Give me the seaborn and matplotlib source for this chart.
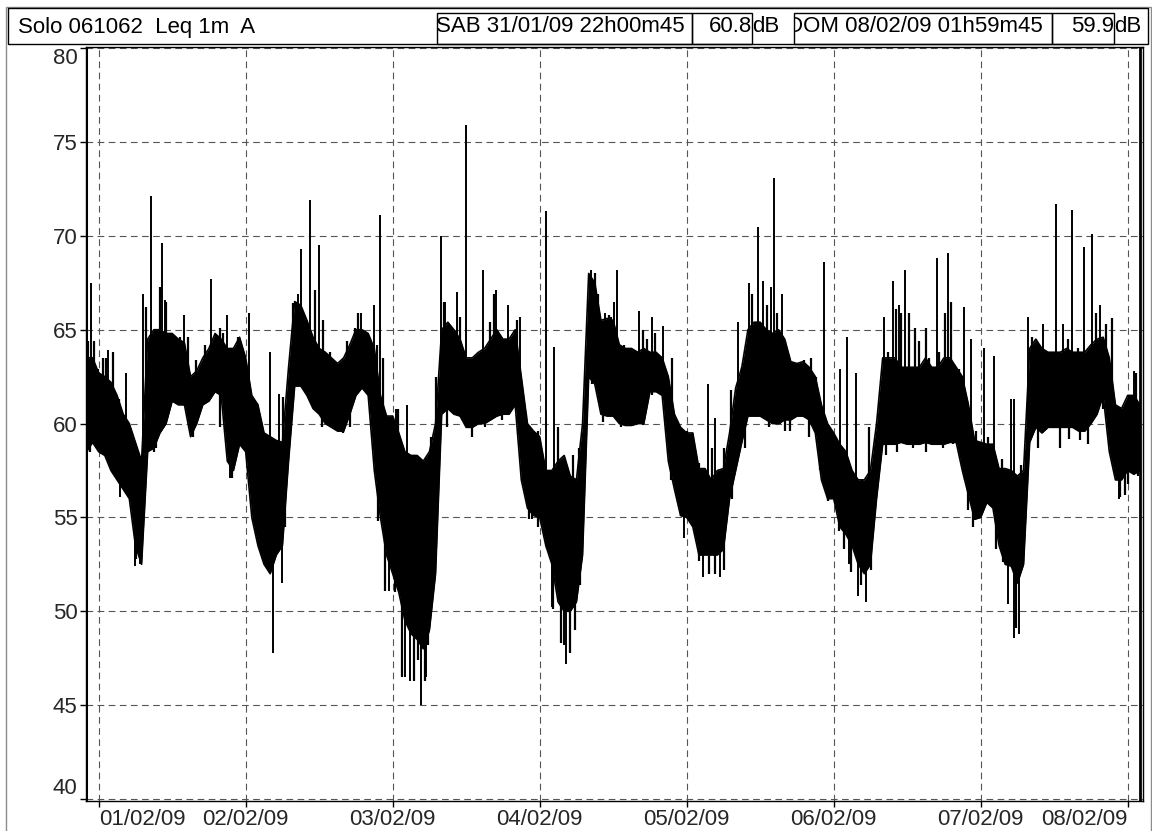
"""
Leq 1m (A) - sonometro Solo 061062
31/01/09 22h00 -> 08/02/09 02h00
"""
import numpy as np
import pandas as pd
import seaborn as sns
import matplotlib.pyplot as plt
from matplotlib.patches import Rectangle
from matplotlib.transforms import Bbox, TransformedBbox

# horas desde 01/02/09 00h00
hours = np.arange(-2, 171)

# envolvente superior / inferior da banda (dB), uma leitura por hora
band_hi = [63.5, 63.5,
           62.7, 62.5, 62.2, 61.5, 60.5, 60.0, 59.0, 58.0, 64.5, 65.0, 65.0, 64.8, 64.8, 64.5, 64.3, 62.5, 62.8, 63.5, 64.0, 64.8, 64.5, 64.0, 64.0, 64.6,
           63.5, 61.5, 61.0, 59.5, 59.3, 59.1, 59.0, 63.0, 66.5, 66.3, 65.5, 64.6, 64.0, 63.8, 63.5, 63.2, 63.5, 64.2, 65.0, 65.0, 64.8, 64.0, 61.5, 60.4,
           60.4, 59.5, 58.5, 58.3, 58.3, 58.0, 58.5, 60.0, 65.0, 65.4, 65.0, 64.5, 63.5, 63.5, 63.8, 64.0, 64.5, 65.0, 64.5, 64.5, 65.0, 62.5, 60.0, 59.6,
           59.3, 57.5, 57.5, 58.0, 58.3, 57.2, 57.0, 60.0, 68.0, 67.5, 65.5, 65.6, 65.5, 64.2, 64.0, 64.0, 63.8, 64.0, 63.8, 63.8, 63.5, 62.5, 60.5, 59.8,
           59.5, 59.5, 57.6, 57.6, 57.0, 57.5, 57.6, 59.5, 61.9, 63.0, 65.0, 65.4, 65.4, 65.0, 64.8, 65.0, 64.5, 63.3, 63.2, 63.3, 63.0, 62.5, 61.0, 60.0,
           59.5, 58.9, 58.5, 57.5, 57.0, 57.0, 57.5, 60.0, 63.5, 63.5, 63.5, 63.0, 63.0, 63.0, 63.0, 63.5, 63.0, 63.0, 63.5, 63.5, 63.0, 62.5, 61.0, 59.1,
           59.0, 58.9, 58.9, 57.6, 57.6, 57.5, 57.2, 57.5, 64.0, 64.5, 64.0, 63.8, 63.8, 63.8, 64.0, 63.8, 63.8, 63.8, 64.2, 64.5, 64.6, 63.5, 61.0, 60.8,
           61.5, 61.5, 61.0]
band_lo = [58.5, 59.0,
           58.5, 58.3, 57.5, 57.0, 56.5, 56.0, 53.5, 52.5, 58.5, 58.7, 59.5, 60.0, 61.2, 61.0, 61.0, 59.3, 60.0, 61.0, 61.2, 61.7, 61.5, 58.0, 57.5, 58.9,
           58.5, 55.0, 53.5, 52.5, 52.0, 53.0, 53.5, 58.0, 62.0, 62.0, 61.5, 60.8, 60.5, 60.0, 59.8, 59.6, 59.6, 60.5, 61.5, 61.9, 61.5, 57.5, 55.0, 53.0,
           52.0, 51.0, 49.5, 48.8, 48.5, 48.0, 49.0, 52.0, 60.5, 60.8, 60.5, 60.4, 59.8, 59.8, 60.0, 60.0, 60.2, 60.4, 60.5, 60.5, 61.0, 57.0, 55.5, 55.1,
           55.0, 53.5, 52.5, 50.5, 50.0, 50.0, 50.5, 53.0, 62.5, 62.1, 60.5, 60.4, 60.4, 60.0, 59.9, 59.9, 60.0, 60.0, 61.7, 61.7, 61.5, 58.0, 56.5, 55.1,
           55.0, 54.5, 53.0, 53.0, 53.0, 53.0, 53.3, 56.0, 57.5, 59.0, 60.4, 60.4, 60.4, 60.2, 60.0, 60.0, 60.2, 60.2, 60.4, 60.4, 60.2, 59.5, 57.0, 56.0,
           56.0, 54.5, 54.1, 53.5, 52.5, 52.0, 52.5, 56.0, 58.9, 58.9, 58.9, 59.0, 58.9, 58.9, 58.9, 59.0, 58.9, 58.9, 58.9, 59.0, 59.0, 57.5, 56.2, 54.9,
           55.0, 55.8, 55.5, 53.5, 52.5, 52.4, 51.5, 52.5, 59.0, 59.8, 59.5, 59.8, 59.8, 59.8, 59.8, 59.8, 59.6, 59.6, 60.0, 60.5, 61.5, 58.5, 57.0, 57.0,
           57.5, 57.3, 57.5]

# picos isolados (hora, dB)
peak_t = [-1.3, 1.6, 4.5, 7.3, 8.5, 10.3, 10.8, 14.0, 18.4, 21.0, 24.5,
          27.9, 29.4, 32.5, 33.0, 34.5, 35.9, 42.9, 45.0, 46.0, 48.6, 50.3,
          55.9, 56.6, 58.5, 60.0, 62.7, 64.8, 66.9, 68.8, 73.0, 74.3, 80.3, 82.7,
          84.2, 84.7, 88.2, 90.3, 92.1, 99.5, 100.6, 104.3, 106.1, 107.6, 108.4, 109.7, 110.2, 111.6,
          118.5, 121.0, 122.1, 123.7, 128.2, 129.7, 130.7, 131.6, 136.9, 138.7, 141.2,
          142.4, 144.5, 146.1, 149.0, 149.5, 151.8, 154.1, 156.3, 157.4, 158.9, 160.8, 162.2, 163.4, 169.0]
peak_v = [67.5, 63.9, 62.7, 66.9, 72.1, 69.6, 66.6, 65.8, 67.7, 65.8, 65.9,
          63.8, 61.6, 66.9, 69.3, 71.9, 69.5, 65.9, 66.3, 71.1, 60.8, 61.0,
          70.0, 66.5, 67.0, 75.9, 68.2, 67.1, 66.3, 65.7, 71.3, 64.1, 68.2, 65.9,
          66.5, 68.2, 66.0, 65.7, 65.2, 62.1, 60.3, 65.4, 67.5, 70.5, 67.6, 67.3, 73.1, 66.9,
          68.6, 62.9, 64.6, 62.7, 65.7, 67.6, 66.3, 68.2, 68.8, 69.1, 66.2,
          64.5, 64.0, 63.6, 61.3, 61.3, 65.7, 65.3, 71.7, 65.3, 71.4, 69.4, 70.1, 66.3, 62.8]

# pequenos picos (textura da banda)
minor_peak_t = [-1.75, -0.82, -0.11, 0.70, 1.25, 2.33, 3.26, 7.78, 9.24, 9.95, 11.04, 12.13, 13.22, 14.58, 15.83, 17.41, 19.75, 20.29, 22.74, 23.83,
                25.8, 30.1, 31.7, 33.7, 35.3, 36.7, 37.8, 40.5, 41.8, 42.4, 44.0, 45.4, 46.5, 48.9, 51.9, 53.5, 54.3,
                55.0, 56.3, 57.4, 59.0, 60.9, 61.8, 63.9, 64.5, 65.3, 67.8, 68.3, 69.7, 71.8, 75.0, 77.5, 78.4, 81.0, 81.6, 83.3,
                83.6, 85.8, 86.6, 88.8, 89.6, 90.9, 91.5, 93.6, 94.7, 96.1, 98.0, 100.2, 102.1, 103.2, 105.1, 106.7, 109.1, 110.8, 112.1,
                113.6, 115.2, 116.3, 117.1, 119.8, 124.7, 125.8, 128.8, 130.2, 131.0, 132.3, 133.2, 134.0, 135.0, 135.6, 137.2, 138.2, 139.2, 140.5,
                141.8, 143.3, 145.2, 147.4, 148.2, 150.6, 152.3, 153.4, 155.0, 155.5, 158.2, 159.9, 161.5, 162.9, 164.5, 165.5, 169.4]
minor_peak_v = [64.4, 64.4, 62.9, 63.5, 63.5, 63.8, 61.3, 66.2, 64.6, 67.3, 66.5, 64.7, 64.6, 64.6, 63.4, 64.2, 65.1, 64.8, 64.6, 62.7,
                61.1, 61.4, 66.4, 65.5, 67.1, 65.5, 63.8, 64.4, 65.1, 65.9, 63.8, 64.2, 63.5, 60.8, 57.9, 58.1, 59.3,
                62.5, 66.5, 64.6, 65.7, 63.0, 62.9, 65.4, 66.9, 64.6, 64.4, 65.5, 60.5, 59.6, 59.8, 58.3, 58.7, 68.0, 66.9, 65.8,
                65.7, 64.2, 63.8, 65.0, 64.5, 64.8, 63.5, 63.5, 59.8, 59.6, 57.9, 58.7, 58.7, 61.8, 63.0, 66.9, 66.3, 65.9, 64.4,
                63.1, 63.4, 63.5, 62.5, 59.6, 57.0, 59.8, 63.8, 66.1, 65.9, 65.9, 65.1, 64.4, 65.1, 63.5, 63.8, 65.9, 66.5, 62.9,
                61.2, 59.6, 59.3, 58.1, 57.5, 57.8, 64.6, 63.5, 62.9, 63.8, 64.5, 64.0, 63.5, 65.9, 65.3, 65.6, 62.7]

# quedas isoladas (hora, dB)
dip_t = [3.4, 5.9, 6.7, 21.4, 25.7, 28.4, 30.0, 47.4, 50.0, 50.8, 52.7, 53.5, 54.4,
         70.7, 74.0, 75.9, 76.3, 95.5, 98.7, 101.5, 122.5, 123.9, 125.3, 148.4, 149.5, 150.3, 166.6]
dip_v = [56.1, 52.4, 52.5, 57.1, 54.4, 47.8, 51.5, 51.1, 46.5, 46.3, 45.0, 46.5, 52.0,
         54.9, 50.2, 48.2, 47.2, 53.9, 51.8, 51.8, 52.5, 50.8, 50.5, 50.4, 48.6, 48.8, 56.0]

# pequenas quedas (textura da banda)
minor_dip_t = [-1.98, -1.4, -0.3, 0.32, 1.52, 2.88, 4.2, 5.33, 6.14, 9.1, 9.4, 10.5, 12.9, 15.4, 17.0, 19.75, 21.8, 23.6, 24.9, 25.4,
               26.3, 27.2, 30.4, 32.6, 33.4, 35.3, 36.4, 38.0, 39.9, 41.0, 42.7, 45.6, 46.8, 48.4, 49.5, 51.4, 52.2, 53.3, 53.8,
               56.9, 58.2, 60.9, 63.1, 65.3, 65.8, 70.2, 71.7, 73.2, 74.1, 75.5, 77.0, 77.8, 78.6, 80.5, 82.4,
               85.2, 87.4, 88.8, 90.4, 93.4, 95.0, 96.4, 98.0, 99.6, 100.7, 102.1, 103.4, 105.5, 107.2, 109.4, 111.3, 112.1,
               112.8, 114.7, 116.0, 117.7, 119.0, 120.9, 121.7, 122.8, 124.5, 126.1, 128.5, 130.4, 132.9, 135.1, 137.8, 139.4, 141.5,
               141.9, 142.7, 143.6, 145.5, 146.5, 147.6, 149.8, 150.9, 153.4, 156.9, 158.5, 160.2, 161.5, 164.0, 166.7, 167.5, 168.0, 169.7]
minor_dip_v = [58.5, 58.5, 59.3, 58.4, 58.1, 57.2, 57.8, 56.0, 52.8, 58.5, 58.7, 60.4, 61.2, 59.3, 61.0, 59.8, 57.1, 58.9, 57.0, 56.2,
               53.5, 52.8, 54.5, 62.1, 62.1, 61.0, 59.8, 60.2, 59.5, 59.8, 61.9, 54.8, 51.1, 51.0, 46.5, 46.3, 47.4, 46.3, 48.2,
               59.8, 61.2, 59.3, 59.8, 60.4, 60.2, 54.9, 54.5, 53.3, 50.1, 48.3, 47.8, 49.0, 51.4, 62.1, 60.1,
               59.8, 60.0, 59.9, 61.5, 57.0, 55.1, 54.9, 52.7, 52.0, 52.0, 52.2, 56.0, 58.7, 61.0, 59.8, 60.0, 59.6,
               59.6, 60.4, 59.3, 57.5, 55.9, 54.3, 53.3, 52.1, 51.4, 52.2, 58.3, 58.5, 58.7, 58.5, 58.7, 58.9, 57.0,
               55.4, 54.5, 54.9, 56.0, 53.3, 52.6, 49.1, 52.6, 58.7, 58.7, 59.2, 59.1, 58.9, 60.8, 56.1, 56.2, 56.8, 57.2]

day_ticks = [0, 24, 48, 72, 96, 120, 144, 168]
day_labels = ["01/02/09", "02/02/09", "03/02/09", "04/02/09",
              "05/02/09", "06/02/09", "07/02/09", "08/02/09"]
y_ticks = [40, 45, 50, 55, 60, 65, 70, 75, 80]

header_title = "Solo 061062  Leq 1m  A"
start_label = "SAB 31/01/09 22h00m45"
start_level = "60.8"
end_label = "DOM 08/02/09 01h59m45"
end_level = "59.9"
unit = "dB"

W, H = 1152, 831


def fx(x):
    return x / W


def fy(y):
    return 1 - y / H


def add_box(fig, x0, y0, x1, y1, color="black", lw=1.0):
    r = Rectangle((fx(x0), fy(y1)), fx(x1) - fx(x0), fy(y0) - fy(y1),
                  transform=fig.transFigure, fill=False, edgecolor=color, lw=lw)
    fig.add_artist(r)
    return r


def add_text(fig, x, y, s, ha="left", clip=None):
    t = fig.text(fx(x), fy(y), s, ha=ha, va="center", fontsize=16, color="black")
    if clip is not None:
        x0, x1 = clip
        bb = TransformedBbox(Bbox([[fx(x0), fy(44)], [fx(x1), fy(12)]]), fig.transFigure)
        t.set_clip_on(True)
        t.set_clip_box(bb)
    return t


def draw_header(fig):
    add_box(fig, 5.5, 6.5, 1150.5, 845, color="#8c8c8c", lw=1.0)
    add_box(fig, 8, 8, 1148, 44)
    add_text(fig, 18, 27, header_title)
    add_box(fig, 437, 12.5, 692, 44)
    add_text(fig, 436, 27, start_label)
    add_box(fig, 692, 12.5, 752, 44)
    add_text(fig, 752, 27, start_level, ha="right")
    add_text(fig, 752, 27, unit)
    add_box(fig, 794, 12.5, 1052, 44)
    add_text(fig, 787, 27, end_label, clip=(794, 1052))
    add_box(fig, 1052, 12.5, 1114, 44)
    add_text(fig, 1114, 27, end_level, ha="right")
    add_text(fig, 1114, 27, unit)


def draw_sticks(ax, df, t, v, lw):
    base = np.interp(t, df["hora"], df["mid"])
    ax.vlines(t, np.minimum(base, v), np.maximum(base, v), color="black", lw=lw, zorder=3)


if __name__ == "__main__":
    sns.set_style("white")
    plt.rcParams["font.family"] = ["Liberation Sans", "DejaVu Sans"]

    df = pd.DataFrame({"hora": hours, "hi": band_hi, "lo": band_lo})
    df["mid"] = (df["hi"] + df["lo"]) / 2

    fig = plt.figure(figsize=(W / 100, H / 100), dpi=100)
    ax = fig.add_axes([fx(86), fy(801), fx(1143) - fx(86), fy(46.7) - fy(801)])

    # banda principal
    ax.fill_between(df["hora"], df["lo"], df["hi"], color="black", lw=0, zorder=3)
    sns.lineplot(data=df, x="hora", y="hi", color="black", lw=1.2, ax=ax, zorder=3)
    sns.lineplot(data=df, x="hora", y="lo", color="black", lw=1.2, ax=ax, zorder=3)

    # picos e quedas
    draw_sticks(ax, df, peak_t, peak_v, 1.4)
    draw_sticks(ax, df, dip_t, dip_v, 1.4)
    draw_sticks(ax, df, minor_peak_t, minor_peak_v, 1.6)
    draw_sticks(ax, df, minor_dip_t, minor_dip_v, 1.6)

    # cursores inicio / fim
    ax.axvline(hours[0], color="black", lw=2.2, zorder=4)
    ax.axvline(hours[-1], color="black", lw=2.0, zorder=4)

    ax.set_xlim(-2.07, 170.5)
    ax.set_ylim(39.89, 80.08)
    ax.set_xticks(day_ticks)
    ax.set_xticklabels(day_labels)
    ax.set_yticks(y_ticks)
    ax.set_yticklabels([str(v) for v in y_ticks])
    ax.set_xlabel("")
    ax.set_ylabel("")
    ax.grid(True, linestyle=(0, (6, 4)), linewidth=0.8, color="#555555", zorder=1)
    ax.tick_params(axis="both", direction="out", length=4, width=1, color="black",
                   labelsize=16, pad=2, bottom=True, left=True)
    for s in ax.spines.values():
        s.set_color("black")
        s.set_linewidth(1.0)

    # rotulos das pontas dentro do eixo
    xl = ax.get_xticklabels()
    xl[0].set_ha("left")
    xl[0].set_x(-2.6)
    xl[-1].set_ha("right")
    xl[-1].set_x(170.5)
    yl = ax.get_yticklabels()
    yl[0].set_va("bottom")
    yl[-1].set_va("top")

    draw_header(fig)

    fig.savefig("out.png", dpi=100)
